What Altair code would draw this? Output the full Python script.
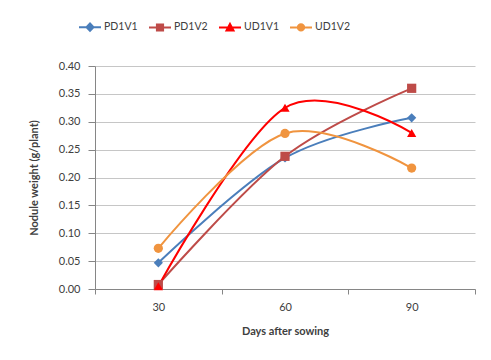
import altair as alt
import pandas as pd

days = ["30", "60", "90"]
series_names = ["PD1V1", "PD1V2", "UD1V1", "UD1V2"]
pd1v1 = [0.047, 0.235, 0.307]
pd1v2 = [0.008, 0.238, 0.360]
ud1v1 = [0.005, 0.325, 0.280]
ud1v2 = [0.073, 0.279, 0.217]
y_ticks = [0.0, 0.05, 0.10, 0.15, 0.20, 0.25, 0.30, 0.35, 0.40]

colors = ["#4a7ebb", "#be4b48", "#ff0000", "#f0943f"]
marker_shapes = ["diamond", "square", "triangle-up", "circle"]
legend_paths = [
    "M-1,0L1,0M0,-0.34L0.32,0L0,0.34L-0.32,0Z",
    "M-1,0L1,0M-0.28,-0.28L0.28,-0.28L0.28,0.28L-0.28,0.28Z",
    "M-1,0L1,0M0,-0.32L0.32,0.28L-0.32,0.28Z",
    "M-1,0L1,0M0.29,0A0.29,0.29 0 1,1 -0.29,0A0.29,0.29 0 1,1 0.29,0Z",
]

rows = []
for name, vals in zip(series_names, [pd1v1, pd1v2, ud1v1, ud1v2]):
    for d, v in zip(days, vals):
        rows.append({"day": d, "value": v, "series": name, "series_pt": name})
df = pd.DataFrame(rows)

font = "Lato"
text_color = "#404040"

x_enc = alt.X(
    "day:N",
    sort=days,
    bandPosition=0.5,
    scale=alt.Scale(type="band", domain=days, paddingInner=0, paddingOuter=0),
    axis=alt.Axis(
        title="Days after sowing",
        labelAngle=0,
        tickBand="extent",
        tickSize=5,
        tickColor="#868686",
        domainColor="#868686",
        labelPadding=7,
        titlePadding=13,
        labelFontSize=11,
        titleFontSize=11,
        titleFontWeight="bold",
        grid=False,
    ),
)
y_enc = alt.Y(
    "value:Q",
    scale=alt.Scale(domain=[0, 0.4], nice=False),
    axis=alt.Axis(
        title="Nodule weight (g/plant)",
        values=y_ticks,
        format=".2f",
        tickSize=7,
        tickColor="#868686",
        domainColor="#868686",
        gridColor="#c6c6c6",
        labelPadding=8,
        titlePadding=19,
        labelFontSize=11,
        titleFontSize=11,
        titleFontWeight="bold",
    ),
)

color_scale = alt.Scale(domain=series_names, range=colors)

lines = alt.Chart(df).mark_line(interpolate="cardinal", strokeWidth=2).encode(
    x=x_enc,
    y=y_enc,
    color=alt.Color("series:N", scale=color_scale, legend=None),
)

points = alt.Chart(df).mark_point(filled=True, opacity=1, size=85).encode(
    x=x_enc,
    y=y_enc,
    color=alt.Color("series:N", scale=color_scale, legend=None),
    shape=alt.Shape(
        "series_pt:N",
        scale=alt.Scale(domain=series_names, range=marker_shapes),
        legend=None,
    ),
)

legend_def = alt.Legend(
    title=None,
    orient="none",
    direction="horizontal",
    legendX=-17,
    legendY=-51,
    symbolSize=484,
    symbolStrokeWidth=2,
    labelFontSize=10.5,
    labelFont=font,
    labelColor=text_color,
    labelOffset=2,
    columnPadding=7,
)

legend_layer = (
    alt.Chart(df)
    .transform_filter("false")
    .mark_point(filled=True, opacity=1, size=484, strokeWidth=2)
    .encode(
        x=x_enc,
        y=y_enc,
        fill=alt.Fill("series:N", scale=color_scale, legend=legend_def),
        stroke=alt.Stroke("series:N", scale=color_scale, legend=legend_def),
        shape=alt.Shape(
            "series:N",
            scale=alt.Scale(domain=series_names, range=legend_paths),
            legend=legend_def,
        ),
    )
)

chart = (
    alt.layer(lines, points, legend_layer)
    .resolve_scale(shape="independent", color="independent",
                   fill="independent", stroke="independent")
    .properties(
        width=380,
        height=223,
        autosize=alt.AutoSizeParams(type="none"),
        padding={"left": 95, "top": 66, "right": 16, "bottom": 71},
        background="white",
    )
    .configure_view(stroke=None)
    .configure_axis(
        labelFont=font,
        titleFont=font,
        labelColor=text_color,
        titleColor=text_color,
    )
)

chart.save("out.html", embed_options={"renderer": "svg", "actions": False})
